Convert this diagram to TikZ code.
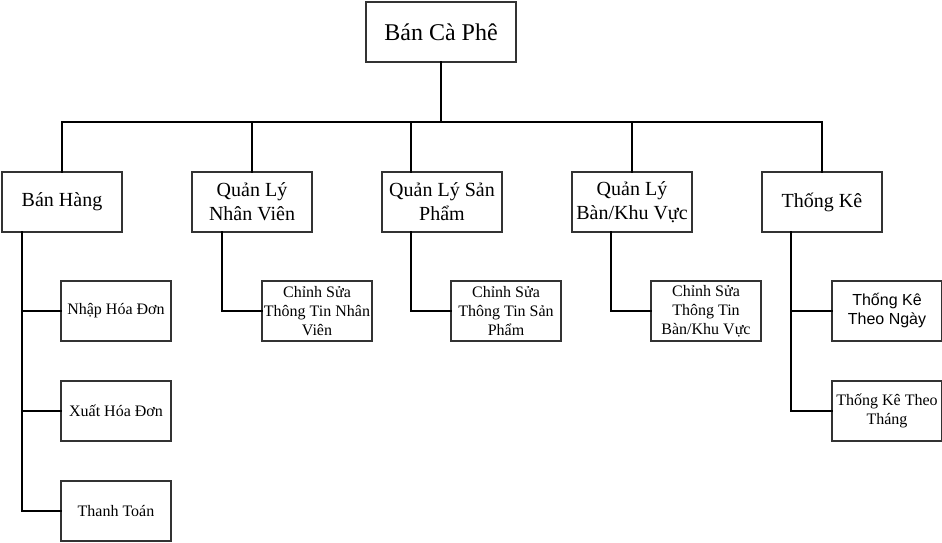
\documentclass[tikz,border=0pt]{standalone}
\usepackage{fontspec}
\setmainfont{Liberation Serif}
\newfontfamily\sansfont{Liberation Sans}
\usetikzlibrary{positioning}
\tikzset{
    box/.style={draw=black!80, line width=1.5pt, outer sep=0pt, inner sep=2pt, align=center}, % every box
    rootbox/.style={box, minimum width=150pt, minimum height=60pt, font=\fontsize{24}{29}\selectfont}, % top box
    mainbox/.style={box, minimum width=120pt, minimum height=60pt, font=\fontsize{20}{24}\selectfont}, % first level
    subbox/.style={box, minimum width=110pt, minimum height=60pt, font=\fontsize{16}{19}\selectfont}, % second level
    link/.style={line width=1.5pt, line cap=rect}, % tree lines
}

\begin{document}
\begin{tikzpicture}[x=1pt, y=1pt, node distance=70pt]
        \useasboundingbox (0,0) rectangle (942,-542);

        % Goc
        \node[rootbox] (banCaPhe) at (441,-32) {Bán Cà Phê};
        \coordinate (bus) at (0,-122);

        % Cap 1
        \node[mainbox] (banHang) at (62,-202) {Bán Hàng};
        \node[mainbox] (nhanVien) [right=of banHang] {Quản Lý\\Nhân Viên};
        \node[mainbox] (sanPham) [right=of nhanVien] {Quản Lý Sản\\Phẩm};
        \node[mainbox] (banKhuVuc) [right=of sanPham] {Quản Lý\\Bàn/Khu Vực};
        \node[mainbox] (thongKe) [right=of banKhuVuc] {Thống Kê};

        % Cap 2
        \node[subbox] (nhapHD) [below=49pt of banHang, xshift=54pt] {Nhập Hóa Đơn};
        \node[subbox] (xuatHD) [below=40pt of nhapHD] {Xuất Hóa Đơn};
        \node[subbox] (thanhToan) [below=40pt of xuatHD] {Thanh Toán};
        \node[subbox] (suaNV) [below=49pt of nhanVien, xshift=65pt] {Chỉnh Sửa\\Thông Tin Nhân\\Viên};
        \node[subbox] (suaSP) [below=49pt of sanPham, xshift=64pt] {Chỉnh Sửa\\Thông Tin Sản\\Phẩm};
        \node[subbox] (suaBan) [below=49pt of banKhuVuc, xshift=74pt] {Chỉnh Sửa\\Thông Tin\\Bàn/Khu Vực};
        \node[subbox] (tkNgay) [below=49pt of thongKe, xshift=65pt] {\sansfont Thống Kê\\\sansfont Theo Ngày};
        \node[subbox] (tkThang) [below=40pt of tkNgay] {Thống Kê Theo\\Tháng};

        % Duong noi
        \draw[link] (banCaPhe.south) -- (banCaPhe.south |- bus);
        \draw[link] (banHang.north |- bus) -- (thongKe.north |- bus);
        \foreach \n in {banHang, nhanVien, banKhuVuc, thongKe}
            \draw[link] (\n.north |- bus) -- (\n.north);
        \draw[link] ([xshift=-31pt]sanPham.north |- bus) -- ([xshift=-31pt]sanPham.north);

        \draw[link] ([xshift=-40pt]banHang.south) |- (nhapHD.west);
        \draw[link] ([xshift=-40pt]banHang.south) |- (xuatHD.west);
        \draw[link] ([xshift=-40pt]banHang.south) |- (thanhToan.west);
        \draw[link] ([xshift=-30pt]nhanVien.south) |- (suaNV.west);
        \draw[link] ([xshift=-31pt]sanPham.south) |- (suaSP.west);
        \draw[link] ([xshift=-21pt]banKhuVuc.south) |- (suaBan.west);
        \draw[link] ([xshift=-31pt]thongKe.south) |- (tkNgay.west);
        \draw[link] ([xshift=-31pt]thongKe.south) |- (tkThang.west);
    \end{tikzpicture}
\end{document}
